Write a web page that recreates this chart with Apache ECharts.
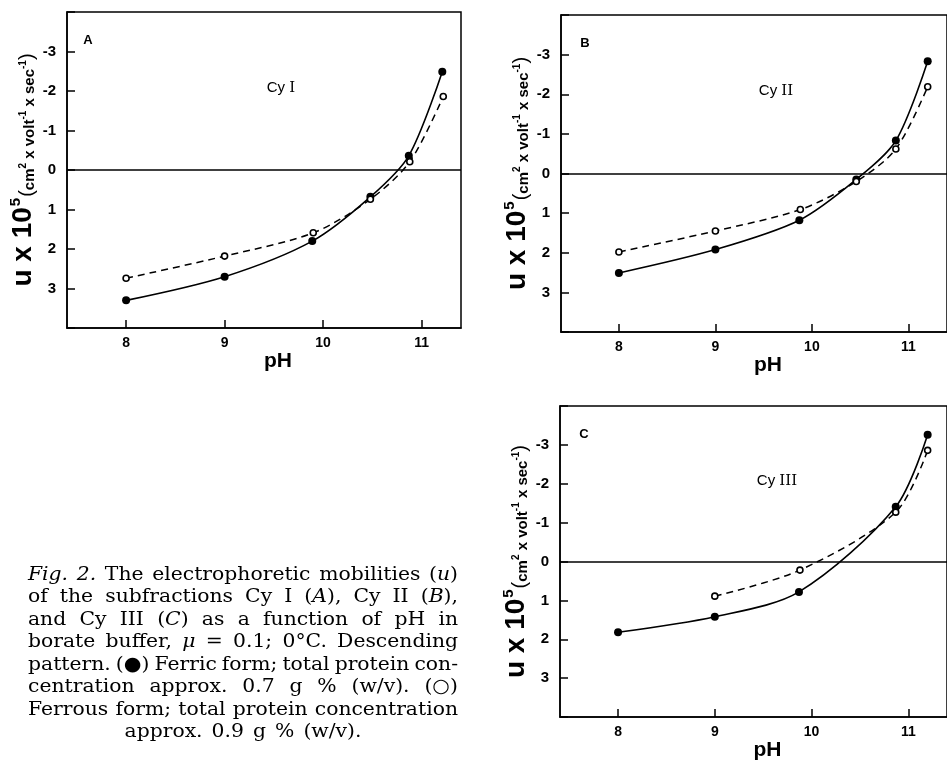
<!DOCTYPE html>
<html><head><meta charset="utf-8">
<script src="https://cdn.jsdelivr.net/npm/echarts@6/dist/echarts.min.js"></script>
<style>html,body{margin:0;padding:0;background:#fff}#c{width:947px;height:762px}</style>
</head><body><div id="c"></div>
<script>
// ---- tick labels / categories ----
const xTickValues = [8, 9, 10, 11];
const yTickValues = [-3, -2, -1, 0, 1, 2, 3];
const panelLetters = ['A', 'B', 'C'];
const panelTitles = [['Cy ', 'I'], ['Cy ', 'II'], ['Cy ', 'III']];

// ---- data: panel A (Cy I) ----
const phA_ferric  = [8, 9, 9.89, 10.48, 10.87, 11.21];
const uA_ferric   = [3.3, 2.7, 1.8, 0.68, -0.36, -2.49];
const phA_ferrous = [8, 9, 9.9, 10.48, 10.88, 11.22];
const uA_ferrous  = [2.74, 2.18, 1.59, 0.74, -0.21, -1.86];
// ---- data: panel B (Cy II) ----
const phB_ferric  = [8, 9, 9.87, 10.46, 10.87, 11.2];
const uB_ferric   = [2.51, 1.92, 1.18, 0.15, -0.83, -2.83];
const phB_ferrous = [8, 9, 9.88, 10.46, 10.87, 11.2];
const uB_ferrous  = [1.98, 1.45, 0.91, 0.2, -0.62, -2.19];
// ---- data: panel C (Cy III) ----
const phC_ferric  = [8, 9, 9.87, 10.87, 11.2];
const uC_ferric   = [1.82, 1.42, 0.78, -1.41, -3.26];
const phC_ferrous = [9, 9.88, 10.87, 11.2];
const uC_ferrous  = [0.89, 0.22, -1.27, -2.86];

const captionLines = [
  '*Fig. 2.* The electrophoretic mobilities (*u*)',
  'of the subfractions Cy I (*A*), Cy II (*B*),',
  'and Cy III (*C*) as a function of pH in',
  'borate buffer, *μ* = 0.1; 0°C. Descending',
  'pattern. (●) Ferric form; total protein con-',
  'centration approx. 0.7 g % (w/v). (○)',
  'Ferrous form; total protein concentration',
  'approx. 0.9 g % (w/v).'
];

function pairs(xs, ys) { return xs.map((x, i) => [x, ys[i]]); }

const grids = [
  { left: 67, top: 12, width: 394, height: 316 },
  { left: 561, top: 15, width: 394, height: 317 },
  { left: 560, top: 406, width: 394, height: 316 }
];

const sans = 'Liberation Sans';
const xAxes = [], yAxes = [], series = [];
grids.forEach((g, i) => {
  xAxes.push({
    type: 'value', gridIndex: i, min: 7.4, max: 11.4,
    axisLine: { show: true, onZero: false, lineStyle: { color: '#000', width: 1.5 } },
    axisTick: { show: true, inside: true, length: 8, customValues: xTickValues, lineStyle: { color: '#000', width: 1.5 } },
    axisLabel: { customValues: xTickValues, color: '#000', fontSize: 14, fontWeight: 'bold', fontFamily: sans, margin: 8 },
    splitLine: { show: false },
    name: 'pH', nameLocation: 'middle', nameGap: 22,
    nameTextStyle: { color: '#000', fontSize: 21, fontWeight: 'bold', fontFamily: sans, padding: [0, 0, 0, 28] }
  });
  yAxes.push({
    type: 'value', gridIndex: i, min: -4, max: 4, interval: 1, inverse: true,
    axisLine: { show: true, onZero: false, lineStyle: { color: '#000', width: 1.5 } },
    axisTick: { show: true, inside: true, length: 8, lineStyle: { color: '#000', width: 1.5 } },
    axisLabel: {
      color: '#000', fontSize: 15, fontWeight: 'bold', fontFamily: sans, margin: 11,
      formatter: v => (yTickValues.indexOf(v) >= 0 ? String(v) : '')
    },
    splitLine: { show: false },
    name: '{u|u x 10}{e|5}{p|(}{c|cm}{s|2}{c| x volt}{s|-1}{c| x sec}{s|-1}{p|)}',
    nameLocation: 'middle', nameRotate: 90, nameGap: 30,
    nameTextStyle: {
      color: '#000', fontFamily: sans,
      rich: {
        u: { fontSize: 28, fontWeight: 'bold', fontFamily: sans, verticalAlign: 'bottom' },
        e: { fontSize: 15, fontWeight: 'bold', fontFamily: sans, verticalAlign: 'bottom', padding: [0, 1, 14, 1] },
        p: { fontSize: 20, fontFamily: sans, verticalAlign: 'bottom' },
        c: { fontSize: 15, fontWeight: 'bold', fontFamily: sans, verticalAlign: 'bottom' },
        s: { fontSize: 10, fontWeight: 'bold', fontFamily: sans, verticalAlign: 'bottom', padding: [0, 0, 9, 0] }
      }
    }
  });
});

const dataSets = [
  [pairs(phA_ferric, uA_ferric), pairs(phA_ferrous, uA_ferrous)],
  [pairs(phB_ferric, uB_ferric), pairs(phB_ferrous, uB_ferrous)],
  [pairs(phC_ferric, uC_ferric), pairs(phC_ferrous, uC_ferrous)]
];
dataSets.forEach((ds, i) => {
  series.push({
    type: 'line', xAxisIndex: i, yAxisIndex: i, data: ds[0], smooth: 0.3,
    symbol: 'circle', symbolSize: 8, showSymbol: true,
    itemStyle: { color: '#000' },
    lineStyle: { color: '#000', width: 1.6 },
    z: 3,
    markLine: {
      silent: true, symbol: 'none', label: { show: false },
      lineStyle: { color: '#000', width: 1.5, type: 'solid' },
      data: [{ yAxis: 0 }]
    }
  });
  series.push({
    type: 'line', xAxisIndex: i, yAxisIndex: i, data: ds[1], smooth: 0.3,
    symbol: 'circle', symbolSize: 6, showSymbol: true,
    itemStyle: { color: '#fff', borderColor: '#000', borderWidth: 1.6 },
    lineStyle: { color: '#000', width: 1.5, type: [7, 5] },
    z: 4
  });
});

// ---- graphic texts ----
const graphics = [];
const letterPos = [[88, 40], [585, 43], [584, 434]];
const titlePos = [[281, 88], [776, 91], [777, 481]];
panelLetters.forEach((L, i) => {
  graphics.push({ type: 'text', x: letterPos[i][0], y: letterPos[i][1],
    style: { text: L, font: 'bold 13px "Liberation Sans"', fill: '#000', align: 'center', verticalAlign: 'middle' } });
  graphics.push({ type: 'text', x: titlePos[i][0], y: titlePos[i][1],
    style: { text: '{a|' + panelTitles[i][0] + '}{b|' + panelTitles[i][1] + '}', fill: '#000', align: 'center', verticalAlign: 'middle',
      rich: { a: { fontSize: 15, fontFamily: sans, fill: '#000' }, b: { fontSize: 15, fontFamily: 'DejaVu Serif', fill: '#000' } } } });
});

// caption with justification
const capL = 28, capR = 458, capTop = 575, capStep = 22.5, capSize = 19, capFam = '"DejaVu Serif"', capStretch = 1.07;
const cv = document.createElement('canvas').getContext('2d');
function fontOf(it) { return (it ? 'italic ' : '') + capSize + 'px ' + capFam; }
function measure(t, it) { cv.font = fontOf(it); return cv.measureText(t).width * capStretch; }
function parseLine(s) {
  const words = []; let cur = []; let it = false; let buf = '';
  const flush = () => { if (buf) { cur.push({ t: buf, it }); buf = ''; } };
  for (const ch of s) {
    if (ch === '*') { flush(); it = !it; }
    else if (ch === ' ') { flush(); if (cur.length) { words.push(cur); cur = []; } }
    else buf += ch;
  }
  flush(); if (cur.length) words.push(cur);
  return words;
}
captionLines.forEach((line, li) => {
  const words = parseLine(line);
  const widths = words.map(w => w.reduce((a, s) => a + measure(s.t, s.it), 0));
  const total = widths.reduce((a, b) => a + b, 0);
  const W = capR - capL;
  const last = li === captionLines.length - 1;
  let gap, scale = capStretch, x0, k = 1;
  const sp = measure(' ', false) * 1.4;
  if (last) {
    gap = sp; x0 = (capL + capR) / 2 - (total + gap * (words.length - 1)) / 2;
  } else {
    gap = (W - total) / (words.length - 1); x0 = capL;
    if (gap < 5) { gap = 5; k = (W - gap * (words.length - 1)) / total; scale = capStretch * k; }
  }
  const y = capTop + li * capStep;
  let x = x0;
  words.forEach((w) => {
    w.forEach(seg => {
      graphics.push({ type: 'text', x: x, y: y, scaleX: scale,
        style: { text: seg.t, font: fontOf(seg.it), fill: '#000', align: 'left', verticalAlign: 'middle' } });
      x += measure(seg.t, seg.it) * k;
    });
    x += gap;
  });
});

const chart = echarts.init(document.getElementById('c'), null, { renderer: 'canvas' });
chart.setOption({
  backgroundColor: '#fff',
  animation: false,
  grid: grids.map(g => Object.assign({ show: true, borderColor: '#000', borderWidth: 1.5, backgroundColor: 'transparent' }, g)),
  xAxis: xAxes,
  yAxis: yAxes,
  series: series,
  graphic: graphics
});
</script></body></html>
